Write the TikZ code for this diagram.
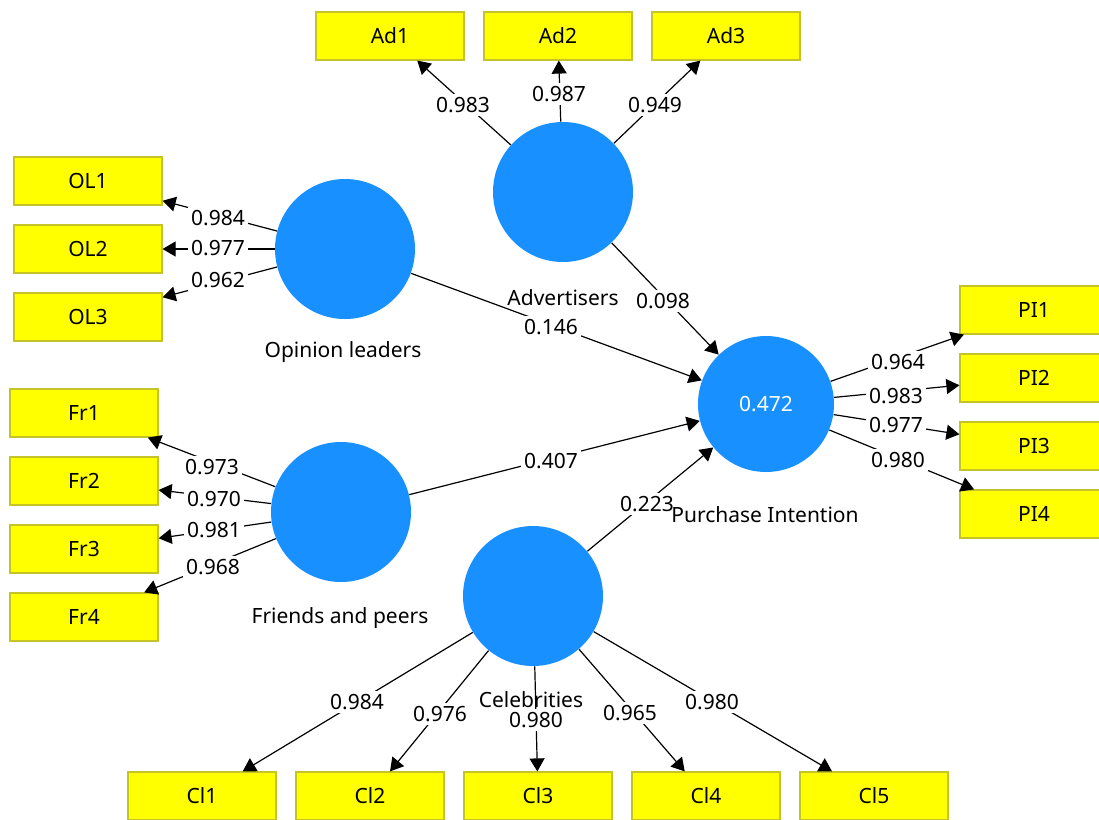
\documentclass[tikz,border=0pt]{standalone}
\usepackage{fontspec}
\setmainfont{Noto Sans}
\usetikzlibrary{arrows.meta}
\definecolor{lvblue}{RGB}{24,144,255}
\definecolor{indyellow}{RGB}{255,255,0}
\definecolor{indborder}{RGB}{196,196,40}

\begin{document}
\begin{tikzpicture}[
		x=0.5pt, y=-0.5pt,
		font=\fontsize{10.5}{12}\selectfont,
		latent/.style={circle, fill=lvblue, minimum size=70pt, inner sep=0pt, text=white},
		indicator/.style={rectangle, fill=indyellow, draw=indborder, line width=0.6pt,
				minimum width=74pt, minimum height=24pt, inner sep=0pt},
		link/.style={draw, line width=0.6pt, -{Triangle[length=6.5pt,width=7.5pt]}},
		coef/.style={fill=white, inner sep=1.5pt}
	]
	\useasboundingbox (0,0) rectangle (1099,820);

	% constructs
	\node[latent] (adv) at (563,192) {};
	\node[latent] (ol) at (345,249) {};
	\node[latent] (fr) at (341,512) {};
	\node[latent] (cel) at (533,596) {};
	\node[latent, minimum size=68pt] (pi) at (766,404) {0.472};

	% indicators
	\node[indicator] (ad1) at (390,36) {Ad1};
	\node[indicator] (ad2) at (558,36) {Ad2};
	\node[indicator] (ad3) at (726,36) {Ad3};
	\node[indicator] (ol1) at (88,181) {OL1};
	\node[indicator] (ol2) at (88,249) {OL2};
	\node[indicator] (ol3) at (88,317) {OL3};
	\node[indicator] (fr1) at (84,413) {Fr1};
	\node[indicator] (fr2) at (84,481) {Fr2};
	\node[indicator] (fr3) at (84,549) {Fr3};
	\node[indicator] (fr4) at (84,617) {Fr4};
	\node[indicator] (pi1) at (1034,310) {PI1};
	\node[indicator] (pi2) at (1034,378) {PI2};
	\node[indicator] (pi3) at (1034,446) {PI3};
	\node[indicator] (pi4) at (1034,514) {PI4};
	\node[indicator] (cl1) at (202,796) {Cl1};
	\node[indicator] (cl2) at (370,796) {Cl2};
	\node[indicator] (cl3) at (538,796) {Cl3};
	\node[indicator] (cl4) at (706,796) {Cl4};
	\node[indicator] (cl5) at (874,796) {Cl5};

	% outer loadings
	\draw[link] (adv) -- (ad1);
	\draw[link] (adv) -- (ad2);
	\draw[link] (adv) -- (ad3);
	\draw[link] (ol) -- (ol1);
	\draw[link] (ol) -- (ol2);
	\draw[link] (ol) -- (ol3);
	\draw[link] (fr) -- (fr1);
	\draw[link] (fr) -- (fr2);
	\draw[link] (fr) -- (fr3);
	\draw[link] (fr) -- (fr4);
	\draw[link] (pi) -- (pi1);
	\draw[link] (pi) -- (pi2);
	\draw[link] (pi) -- (pi3);
	\draw[link] (pi) -- (pi4);
	\draw[link] (cel) -- (cl1);
	\draw[link] (cel) -- (cl2);
	\draw[link] (cel) -- (cl3);
	\draw[link] (cel) -- (cl4);
	\draw[link] (cel) -- (cl5);

	% paths
	\draw[link] (adv) -- (pi);
	\draw[link] (ol) -- (pi);
	\draw[link] (fr) -- (pi);
	\draw[link] (cel) -- (pi);

	% coefficients
	\node[coef] (kad1) at (463,105) {0.983};
	\node[coef] (kad2) at (559,94) {0.987};
	\node[coef] (kad3) at (655,105) {0.949};
	\node[coef] (kol1) at (218,218) {0.984};
	\node[coef] (kol2) at (218,248) {0.977};
	\node[coef] (kol3) at (218,280) {0.962};
	\node[coef] (kfr1) at (212,467) {0.973};
	\node[coef] (kfr2) at (214,499) {0.970};
	\node[coef] (kfr3) at (214,530) {0.981};
	\node[coef] (kfr4) at (213,567) {0.968};
	\node[coef] (kpi1) at (898,362) {0.964};
	\node[coef] (kpi2) at (896,396) {0.983};
	\node[coef] (kpi3) at (896,425) {0.977};
	\node[coef] (kpi4) at (898,460) {0.980};
	\node[coef] (kcl1) at (357,702) {0.984};
	\node[coef] (kcl2) at (440,714) {0.976};
	\node[coef] (kcl3) at (536,720) {0.980};
	\node[coef] (kcl4) at (630,713) {0.965};
	\node[coef] (kcl5) at (712,702) {0.980};
	\node[coef] (kadv) at (663,301) {0.098};
	\node[coef] (kol) at (551,327) {0.146};
	\node[coef] (kfr) at (551,461) {0.407};
	\node[coef] (kcel) at (647,504) {0.223};

	% construct names
	\node (advname) at (563,298) {Advertisers};
	\node (olname) at (343,352) {Opinion leaders};
	\node (frname) at (340,618) {Friends and peers};
	\node (celname) at (531,700) {Celebrities};
	\node (piname) at (765,515) {Purchase Intention};
\end{tikzpicture}
\end{document}
